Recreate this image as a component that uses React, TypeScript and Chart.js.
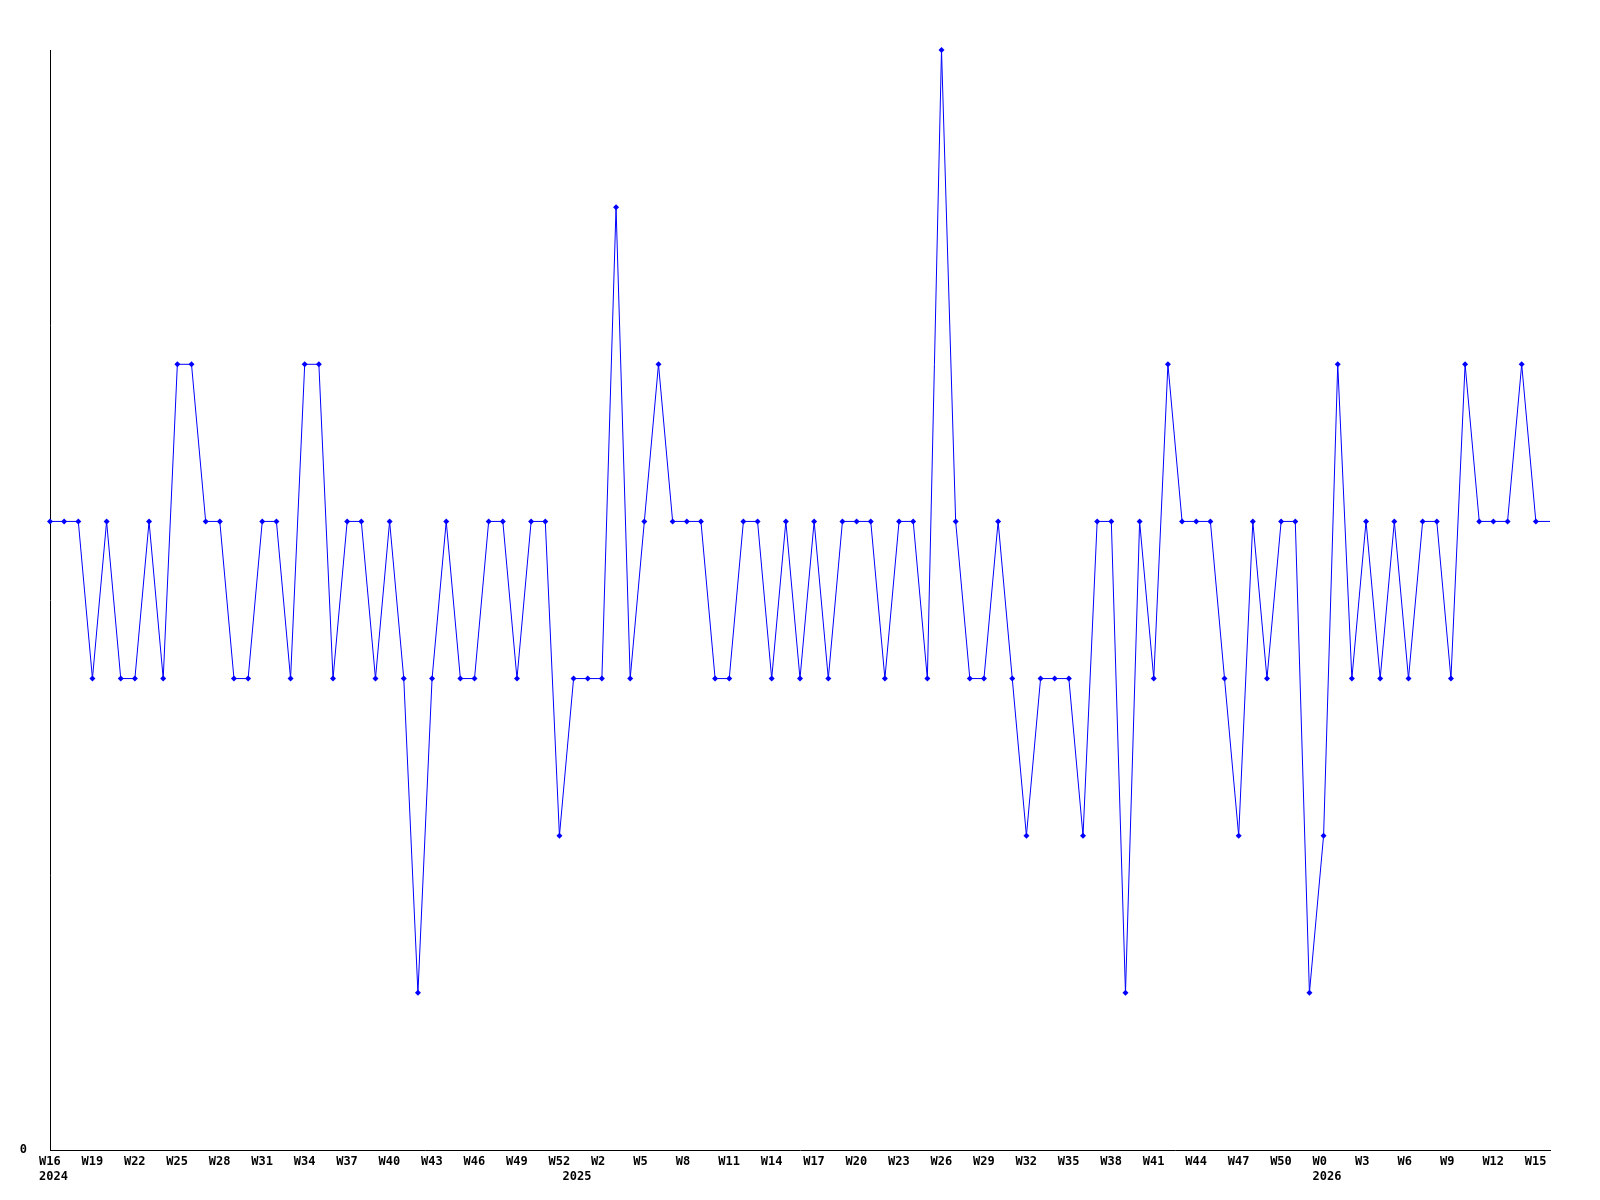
import { useEffect, useRef } from "react";
import { Chart, registerables } from "chart.js";

Chart.register(...registerables);

// Week numbers per year (x categories)
const weeks2024 = [16, 17, 18, 19, 20, 21, 22, 23, 24, 25, 26, 27, 28, 29, 30, 31, 32, 33, 34, 35, 36, 37, 38, 39, 40, 41, 42, 43, 44, 45, 46, 47, 48, 49, 50, 51, 52];
const weeks2025 = [0, 1, 2, 3, 4, 5, 6, 7, 8, 9, 10, 11, 12, 13, 14, 15, 16, 17, 18, 19, 20, 21, 22, 23, 24, 25, 26, 27, 28, 29, 30, 31, 32, 33, 34, 35, 36, 37, 38, 39, 40, 41, 42, 43, 44, 45, 46, 47, 48, 49, 50, 51, 52];
const weeks2026 = [0, 1, 2, 3, 4, 5, 6, 7, 8, 9, 10, 11, 12, 13, 14, 15, 16];
const years = ["2024", "2025", "2026"];

// Series values, one per week
const values = [
  4, 4, 4, 3, 4, 3, 3, 4, 3, 5,
  5, 4, 4, 3, 3, 4, 4, 3, 5, 5,
  3, 4, 4, 3, 4, 3, 1, 3, 4, 3,
  3, 4, 4, 3, 4, 4, 2, 3, 3, 3,
  6, 3, 4, 5, 4, 4, 4, 3, 3, 4,
  4, 3, 4, 3, 4, 3, 4, 4, 4, 3,
  4, 4, 3, 7, 4, 3, 3, 4, 3, 2,
  3, 3, 3, 2, 4, 4, 1, 4, 3, 5,
  4, 4, 4, 3, 2, 4, 3, 4, 4, 1,
  2, 5, 3, 4, 3, 4, 3, 4, 4, 3,
  5, 4, 4, 4, 5, 4, 4,
];

const yTicks = [0];
const yMin = 0;
const yMax = 7;
const labelEvery = 3;

export default function App() {
  const ref = useRef<HTMLCanvasElement>(null);

  useEffect(() => {
    document.body.style.margin = "0";
    const cats = [
      ...weeks2024.map((w) => ({ year: years[0], week: "W" + w })),
      ...weeks2025.map((w) => ({ year: years[1], week: "W" + w })),
      ...weeks2026.map((w) => ({ year: years[2], week: "W" + w })),
    ];
    const firstOfYear = new Set([0, weeks2024.length, weeks2024.length + weeks2025.length]);
    const font = { family: "'DejaVu Sans Mono', monospace", size: 12, weight: "bold" as const, lineHeight: 1.2 };

    const chart = new Chart(ref.current!, {
      type: "line",
      data: {
        labels: cats.map((c) => c.year + "-" + c.week),
        datasets: [
          {
            data: values,
            borderColor: "#0000ff",
            backgroundColor: "#0000ff",
            borderWidth: 1,
            tension: 0,
            fill: false,
            clip: false,
            pointStyle: "rectRot",
            pointRadius: values.map((_, i) => (i === values.length - 1 ? 0 : 3)),
            pointBorderWidth: 0,
            pointBackgroundColor: "#0000ff",
          },
        ],
      },
      options: {
        responsive: false,
        animation: false,
        devicePixelRatio: 1,
        layout: { padding: { left: 0, right: 50, top: 50, bottom: 0 } },
        plugins: { legend: { display: false }, tooltip: { enabled: false } },
        scales: {
          x: {
            type: "category",
            offset: false,
            grid: { display: false, drawTicks: false },
            border: { display: true, color: "#000000", width: 1 },
            ticks: {
              autoSkip: false,
              maxRotation: 0,
              minRotation: 0,
              align: "start",
              labelOffset: -11,
              padding: 5,
              color: "#000000",
              font,
              callback: (_v: any, i: number) => {
                const w = i % labelEvery === 0 ? cats[i].week : "";
                return firstOfYear.has(i) ? [w, cats[i].year] : w;
              },
            },
            afterFit: (s: any) => {
              s.height = 50;
            },
          },
          y: {
            min: yMin,
            max: yMax,
            grid: { display: false, drawTicks: false },
            border: { display: true, color: "#000000", width: 1 },
            afterBuildTicks: (s: any) => {
              s.ticks = yTicks.map((v) => ({ value: v }));
            },
            ticks: {
              padding: 23,
              color: "#000000",
              font,
              callback: (v: any) => String(v),
            },
            afterFit: (s: any) => {
              s.width = 50;
            },
          },
        },
      },
    });
    return () => chart.destroy();
  }, []);

  return <canvas ref={ref} width={1600} height={1200} style={{ display: "block" }} />;
}
